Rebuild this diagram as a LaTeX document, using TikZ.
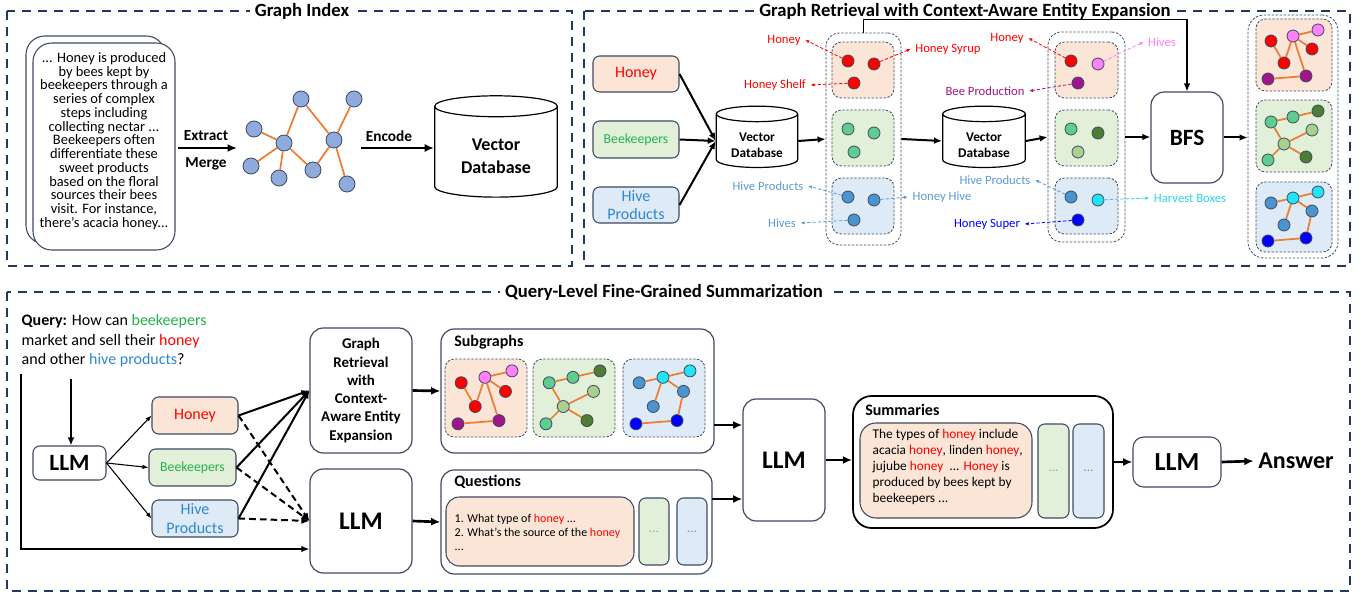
\documentclass[tikz,border=0pt]{standalone}
\usepackage{fontspec}
\setmainfont{Carlito}
\usetikzlibrary{arrows.meta,shapes.geometric,fit,positioning}

\definecolor{panelnavy}{HTML}{203864}
\definecolor{boxline}{HTML}{3E4A61}
\definecolor{peach}{HTML}{FBE5D6}
\definecolor{mint}{HTML}{E2F0D9}
\definecolor{sky}{HTML}{DEEBF7}
\definecolor{linkorange}{HTML}{ED7D31}
\definecolor{steel}{HTML}{8FAADC}
\definecolor{txtgreen}{HTML}{22B24C}
\definecolor{txtblue}{HTML}{2E86D6}
\definecolor{lblblue}{HTML}{5B9BD5}
\definecolor{lblcyan}{HTML}{2ED3EE}
\definecolor{nred}{HTML}{FF0000}
\definecolor{npink}{HTML}{FF80FF}
\definecolor{npurple}{HTML}{A0148C}
\definecolor{ngreen}{HTML}{5FCD8F}
\definecolor{ndkgreen}{HTML}{4F7D33}
\definecolor{nltgreen}{HTML}{A9D18E}
\definecolor{nblue}{HTML}{4A94D0}
\definecolor{ncyan}{HTML}{22E4F6}
\definecolor{nfull}{HTML}{0000FF}

\tikzset{
  panel/.style={draw=panelnavy, line width=2.2pt, dash pattern=on 7pt off 5pt},
  paneltitle/.style={fill=white, inner xsep=4pt, inner ysep=1pt, font=\fontsize{14}{16}\selectfont\bfseries},
  wh/.style 2 args={minimum width=#1*0.75pt, minimum height=#2*0.75pt},
  roundbox/.style={draw=boxline, line width=0.8pt, rounded corners=5pt, inner sep=0pt},
  bigbox/.style={roundbox, line width=0.9pt, rounded corners=10pt},
  grp/.style={draw=boxline, line width=0.6pt, dash pattern=on 1.8pt off 1.2pt, rounded corners=7pt, inner sep=0pt},
  ent/.style={circle, draw=boxline, line width=0.6pt, minimum size=9pt, inner sep=0pt},
  gnode/.style={ent, fill=steel, minimum size=12pt},
  link/.style={draw=linkorange, line width=1.3pt},
  arr/.style={-{Latex[length=6pt,width=5pt]}, line width=1.5pt},
  fatarr/.style={-{Latex[length=7pt,width=6pt]}, line width=2pt},
  thinarr/.style={-{Latex[length=4.5pt,width=3.5pt]}, line width=0.8pt},
  lblarr/.style={-{Latex[length=3pt,width=2.6pt]}, line width=0.6pt, dash pattern=on 2.5pt off 1.5pt},
  db/.style={cylinder, shape border rotate=90, draw, line width=0.9pt, aspect=0.3, inner sep=0pt, align=center},
  dbtext/.style={align=center, inner sep=0pt},
  lbl/.style={font=\fontsize{9.5}{11}\selectfont},
  boxtitle/.style={anchor=west, inner sep=0pt, font=\fontsize{12}{14}\selectfont\bfseries}
}

% one small graph of seven entities, #1 name, #2 scope options, #3-#9 colours
\newcommand{\minigraph}[9]{%
  \begin{scope}[#2]
    \node[ent, fill=#3] (#1-1) at (15,22) {};
    \node[ent, fill=#4] (#1-2) at (37,17) {};
    \node[ent, fill=#5] (#1-3) at (62,11) {};
    \node[ent, fill=#6] (#1-4) at (56,30) {};
    \node[ent, fill=#7] (#1-5) at (28,44) {};
    \node[ent, fill=#8] (#1-6) at (12,60) {};
    \node[ent, fill=#9] (#1-7) at (50,57) {};
  \end{scope}}

\begin{document}
\begin{tikzpicture}[x=0.75pt,y=-0.75pt]
\useasboundingbox (0,0) rectangle (1367,595);

% panels
\draw[panel] (7,11) rectangle (572,266);
\node[paneltitle] (tindex) at (302,11) {Graph Index};
\draw[panel] (584,11) rectangle (1350,266);
\node[paneltitle] (tretr) at (965,11) {Graph Retrieval with Context-Aware Entity Expansion};
\draw[panel] (7,292) rectangle (1350,591);
\node[paneltitle] (tsumm) at (664,292) {Query-Level Fine-Grained Summarization};

% ---- graph index
\node[roundbox, rounded corners=14pt, fit={(26,36)(165,244)}] (docback) {};
\node[roundbox, rounded corners=14pt, fill=white, fit={(33,43)(175,250)}] (doc) {};
\node[align=center, font=\fontsize{10.8}{10.3}\selectfont] (doctext) at (104,141)
  {... Honey is produced\\by bees kept by\\beekeepers through a\\series of complex\\steps including\\collecting nectar ...\\Beekeepers often\\differentiate these\\sweet products\\based on the floral\\sources their bees\\visit. For instance,\\there’s acacia honey...};

\node[gnode] (gi1) at (301,99) {};
\node[gnode] (gi2) at (354,99) {};
\node[gnode] (gi3) at (254,129) {};
\node[gnode] (gi4) at (284,143) {};
\node[gnode] (gi5) at (334,140) {};
\node[gnode] (gi6) at (251,166) {};
\node[gnode] (gi7) at (279,178) {};
\node[gnode] (gi8) at (313,170) {};
\node[gnode] (gi9) at (347,184) {};
\foreach \a/\b in {3/4,4/1,1/5,5/2,4/6,4/7,4/8,8/5,5/9}
  \draw[link] (gi\a) -- (gi\b);

\coordinate (exfrom) at (178,148);
\coordinate (exto) at (237,148);
\draw[fatarr] (exfrom) -- (exto);
\node[font=\fontsize{11.5}{13}\selectfont\bfseries] (extract) at (206,136) {Extract};
\node[font=\fontsize{11.5}{13}\selectfont\bfseries] (merge) at (206,164) {Merge};

\node[db, minimum width=92pt, minimum height=76pt, font=\fontsize{13.5}{17}\selectfont\bfseries] (dbidx) at (496,152) {\phantom{Vector}\\\phantom{Database}};
\node[dbtext, font=\fontsize{13.5}{17}\selectfont\bfseries] (dbidxtxt) at (496,156) {Vector\\Database};
\coordinate (encfrom) at (361,148);
\draw[fatarr] (encfrom) -- (encfrom -| dbidx.west);
\node[font=\fontsize{11.5}{13}\selectfont\bfseries] (encode) at (389,136) {Encode};

% ---- graph retrieval
\node[roundbox, fill=peach, wh={86}{36}, text=nred, font=\fontsize{12}{14}\selectfont] (qhoney) at (636,74) {Honey};
\node[roundbox, fill=mint, wh={86}{37}, text=txtgreen, font=\fontsize{10.3}{12}\selectfont] (qbee) at (636,139.5) {Beekeepers};
\node[roundbox, fill=sky, wh={86}{36}, text=txtblue, align=center, font=\fontsize{12}{14}\selectfont] (qhive) at (636,205) {Hive\\Products};

\node[db, minimum width=61pt, minimum height=46pt, font=\fontsize{10}{12}\selectfont\bfseries] (db1) at (757,141) {\phantom{Vector}\\\phantom{Database}};
\node[dbtext, font=\fontsize{10}{12}\selectfont\bfseries] (db1txt) at (757,145) {Vector\\Database};
\draw[arr] (qhoney.east) -- (db1.west);
\draw[arr] (qbee.east) -- (db1.west);
\draw[arr] (qhive.east) -- (db1.west);

\node[grp, rounded corners=10pt, fit={(826,33)(901,245)}] (col1) {};
\node[grp, fill=peach, fit={(832,42)(894,98)}] (c1r) {};
\node[grp, fill=mint, fit={(832,110)(894,166)}] (c1g) {};
\node[grp, fill=sky, fit={(832,178)(894,234)}] (c1b) {};
\node[ent, fill=nred] (e1a) at (848,61) {};
\node[ent, fill=nred] (e1b) at (874,64) {};
\node[ent, fill=nred] (e1c) at (854,83) {};
\node[ent, fill=ngreen] (e1d) at (848,129) {};
\node[ent, fill=ngreen] (e1e) at (874,133) {};
\node[ent, fill=ngreen] (e1f) at (854,152) {};
\node[ent, fill=nblue] (e1g) at (848,197) {};
\node[ent, fill=nblue] (e1h) at (874,200) {};
\node[ent, fill=nblue] (e1i) at (854,220) {};
\draw[arr] (db1.east) -- (col1.west);

\node[lbl, text=nred] (l1a) at (784,40) {Honey};
\node[lbl, text=nred] (l1b) at (948,49) {Honey Syrup};
\node[lbl, text=nred] (l1c) at (775,85) {Honey Shelf};
\node[lbl, text=lblblue] (l1g) at (768,186) {Hive Products};
\node[lbl, text=lblblue] (l1h) at (942,197) {Honey Hive};
\node[lbl, text=lblblue] (l1i) at (782,223) {Hives};
\draw[lblarr, nred] (e1a) -- (l1a.east);
\draw[lblarr, nred] (e1b) -- (l1b.west);
\draw[lblarr, nred] (e1c) -- (l1c.east);
\draw[lblarr, lblblue] (e1g) -- (l1g.east);
\draw[lblarr, lblblue] (e1h) -- (l1h.west);
\draw[lblarr, lblblue] (e1i) -- (l1i.east);

\node[db, minimum width=62pt, minimum height=46pt, font=\fontsize{10}{12}\selectfont\bfseries] (db2) at (984,141) {\phantom{Vector}\\\phantom{Database}};
\node[dbtext, font=\fontsize{10}{12}\selectfont\bfseries] (db2txt) at (984,145) {Vector\\Database};
\draw[arr] (col1.east) -- (db2.west);

\node[grp, rounded corners=10pt, fit={(1048,32)(1125,242)}] (col2) {};
\node[grp, fill=peach, fit={(1055,42)(1118,98)}] (c2r) {};
\node[grp, fill=mint, fit={(1055,110)(1118,166)}] (c2g) {};
\node[grp, fill=sky, fit={(1055,178)(1118,234)}] (c2b) {};
\node[ent, fill=nred] (e2a) at (1071,61) {};
\node[ent, fill=npink] (e2b) at (1098,64) {};
\node[ent, fill=npurple] (e2c) at (1078,83) {};
\node[ent, fill=ngreen] (e2d) at (1071,129) {};
\node[ent, fill=ndkgreen] (e2e) at (1098,133) {};
\node[ent, fill=nltgreen] (e2f) at (1078,152) {};
\node[ent, fill=nblue] (e2g) at (1071,197) {};
\node[ent, fill=ncyan] (e2h) at (1098,200) {};
\node[ent, fill=nfull] (e2i) at (1078,220) {};
\draw[arr] (db2.east) -- (col2.west);

\node[lbl, text=nred] (l2a) at (1007,38) {Honey};
\node[lbl, text=npink] (l2b) at (1162,42) {Hives};
\node[lbl, text=npurple] (l2c) at (985,91) {Bee Production};
\node[lbl, text=lblblue] (l2g) at (995,180) {Hive Products};
\node[lbl, text=lblcyan] (l2h) at (1190,198) {Harvest Boxes};
\node[lbl, text=nfull] (l2i) at (987,224) {Honey Super};
\draw[lblarr, nred] (e2a) -- (l2a.east);
\draw[lblarr, npink] (e2b) -- (l2b.west);
\draw[lblarr, npurple] (e2c) -- (l2c.east);
\draw[lblarr, lblblue] (e2g) -- (l2g.east);
\draw[lblarr, lblcyan] (e2h) -- (l2h.west);
\draw[lblarr, nfull] (e2i) -- (l2i.east);

\node[bigbox, wh={72}{91}, font=\fontsize{17.5}{20}\selectfont\bfseries] (bfs) at (1187,137.5) {BFS};
\draw[arr] (col2.east) -- (col2.east -| bfs.west);
\draw[-{Latex[length=6pt,width=5pt]}, line width=1pt] (col1.north) -- ++(0,-13) -| (bfs.north);

\node[grp, rounded corners=12pt, fit={(1248,15)(1338,258)}] (res) {};
\draw[arr] (bfs.east) -- (bfs.east -| res.west);
\node[grp, fill=peach, fit={(1256,19)(1332,91)}] (rr) {};
\node[grp, fill=mint, fit={(1256,100)(1332,172)}] (rg) {};
\node[grp, fill=sky, fit={(1256,182)(1332,252)}] (rb) {};
\minigraph{rred}{shift={(1256,19)}}{nred}{npink}{npink}{nred}{nred}{npurple}{npurple}
\minigraph{rgrn}{shift={(1256,100)}}{ngreen}{ngreen}{ndkgreen}{nltgreen}{nltgreen}{ngreen}{ndkgreen}
\minigraph{rblu}{shift={(1256,181)}}{nblue}{ncyan}{ncyan}{nblue}{nblue}{nfull}{nfull}
\foreach \a/\b in {1/5,2/3,2/5,2/7,2/4,6/7} \draw[link] (rred-\a) -- (rred-\b);
\foreach \a/\b in {1/2,2/3,1/5,5/4,5/6,5/7} \draw[link] (rgrn-\a) -- (rgrn-\b);
\foreach \a/\b in {1/2,2/3,2/5,2/4,4/7,6/7} \draw[link] (rblu-\a) -- (rblu-\b);

% ---- summarization
\node[anchor=west, align=left, font=\fontsize{12}{14.6}\selectfont] (query) at (17,341)
  {\textbf{Query:} How can \textcolor{txtgreen}{beekeepers}\\market and sell their \textcolor{nred}{honey}\\and other \textcolor{txtblue}{hive products}?};

\node[roundbox, wh={73}{34}, font=\fontsize{17.5}{20}\selectfont\bfseries] (llm1) at (69.5,463) {LLM};
\coordinate (qdown) at (71,379);
\draw[arr] (qdown) -- (qdown |- llm1.north);

\node[roundbox, fill=peach, wh={86}{37}, text=nred, font=\fontsize{12}{14}\selectfont] (bhoney) at (195,415.5) {Honey};
\node[roundbox, fill=mint, wh={87}{37}, text=txtgreen, font=\fontsize{10.3}{12}\selectfont] (bbee) at (192.5,467.5) {Beekeepers};
\node[roundbox, fill=sky, wh={86}{37}, text=txtblue, align=center, font=\fontsize{12}{14}\selectfont] (bhive) at (195,518.5) {Hive\\Products};
\draw[thinarr] (llm1.east) -- (bhoney.west);
\draw[thinarr] (llm1.east) -- (bbee.west);
\draw[thinarr] (llm1.east) -- (bhive.west);

\node[bigbox, wh={102}{125}, align=center, font=\fontsize{11.2}{13.7}\selectfont\bfseries] (gr) at (361,390.5) {Graph\\Retrieval\\with\\Context-\\Aware Entity\\Expansion};
\node[bigbox, wh={102}{104}, font=\fontsize{19}{22}\selectfont\bfseries] (llm2) at (361,521) {LLM};
\draw[arr] (bhoney.east) -- (gr.west);
\draw[arr] (bbee.east) -- (gr.west);
\draw[arr] (bhive.east) -- (gr.west);
\draw[arr, dash pattern=on 5pt off 3pt] (bhoney.east) -- (llm2.west);
\draw[arr, dash pattern=on 5pt off 3pt] (bbee.east) -- (llm2.west);
\draw[arr, dash pattern=on 5pt off 3pt] (bhive.east) -- (llm2.west);
\coordinate (qleft) at (21,374);
\draw[arr] (qleft) |- ([yshift=-21pt]llm2.west);

\node[bigbox, fit={(441,329)(714,453)}] (subg) {};
\node[boxtitle] (tsubg) at (454,342) {Subgraphs};
\node[grp, fill=peach, fit={(445,359)(527,437)}] (sgr) {};
\node[grp, fill=mint, fit={(533,359)(615,437)}] (sgg) {};
\node[grp, fill=sky, fit={(623,359)(705,437)}] (sgb) {};
\minigraph{sred}{shift={(445,359)},scale=1.08}{nred}{npink}{npink}{nred}{nred}{npurple}{npurple}
\minigraph{sgrn}{shift={(533,359)},scale=1.08}{ngreen}{ngreen}{ndkgreen}{nltgreen}{nltgreen}{ngreen}{ndkgreen}
\minigraph{sblu}{shift={(623,359)},scale=1.08}{nblue}{ncyan}{ncyan}{nblue}{nblue}{nfull}{nfull}
\foreach \a/\b in {1/5,2/3,2/5,2/7,2/4,6/7} \draw[link] (sred-\a) -- (sred-\b);
\foreach \a/\b in {1/2,2/3,1/5,5/4,5/6,5/7} \draw[link] (sgrn-\a) -- (sgrn-\b);
\foreach \a/\b in {1/2,2/3,2/5,2/4,4/7,6/7} \draw[link] (sblu-\a) -- (sblu-\b);
\draw[fatarr] (gr.east) -- (subg.west);

\node[bigbox, fit={(441,470)(712,574)}] (ques) {};
\node[boxtitle] (tques) at (454,482) {Questions};
\node[roundbox, fill=peach, rounded corners=10pt, fit={(446,497)(634,566)}] (qo) {};
\node[roundbox, fill=mint, wh={30}{67}, text=ngreen] (qg) at (654,531.5) {...};
\node[roundbox, fill=sky, wh={30}{67}, text=lblblue] (qb) at (692,531.5) {...};
\node[anchor=west, align=left, font=\fontsize{9}{10.5}\selectfont] (qtext) at (450,532)
  {1. What type of \textcolor{nred}{honey} ...\\2. What’s the source of the \textcolor{nred}{honey}\\...};
\draw[fatarr] (llm2.east) -- (ques.west);

\node[bigbox, wh={82}{122}, font=\fontsize{19}{22}\selectfont\bfseries] (llm3) at (784,460) {LLM};
\coordinate (sgout) at (714,425);
\coordinate (qout) at (712,499);
\draw[fatarr] (sgout) -- (sgout -| llm3.west);
\draw[fatarr] (qout) -- (qout -| llm3.west);

\node[bigbox, draw=black, line width=1.3pt, rounded corners=14pt, fit={(853,396)(1113,528)}] (summ) {};
\node[boxtitle] (tsumm2) at (865,410) {Summaries};
\node[roundbox, fill=peach, rounded corners=12pt, fit={(860,423)(1032,518)}] (so) {};
\node[roundbox, fill=mint, wh={31}{94}, text=ngreen] (sg) at (1053.5,471) {...};
\node[roundbox, fill=sky, wh={31}{94}, text=lblblue] (sb) at (1088.5,471) {...};
\node[anchor=west, align=left, font=\fontsize{10}{12}\selectfont] (stext) at (868,467)
  {The types of \textcolor{nred}{honey} include\\acacia \textcolor{nred}{honey}, linden \textcolor{nred}{honey},\\jujube \textcolor{nred}{honey}\ \ ... \textcolor{nred}{Honey} is\\produced by bees kept by\\beekeepers ...};
\draw[fatarr] (llm3.east) -- (llm3.east -| summ.west);

\node[roundbox, rounded corners=8pt, wh={88}{50}, font=\fontsize{19.5}{22}\selectfont\bfseries] (llm4) at (1177,462) {LLM};
\draw[fatarr] (summ.east |- llm4.west) -- (llm4.west);
\node[font=\fontsize{18}{20}\selectfont\bfseries] (answer) at (1296,461) {Answer};
\draw[fatarr] (llm4.east) -- (answer.west);
\end{tikzpicture}
\end{document}
